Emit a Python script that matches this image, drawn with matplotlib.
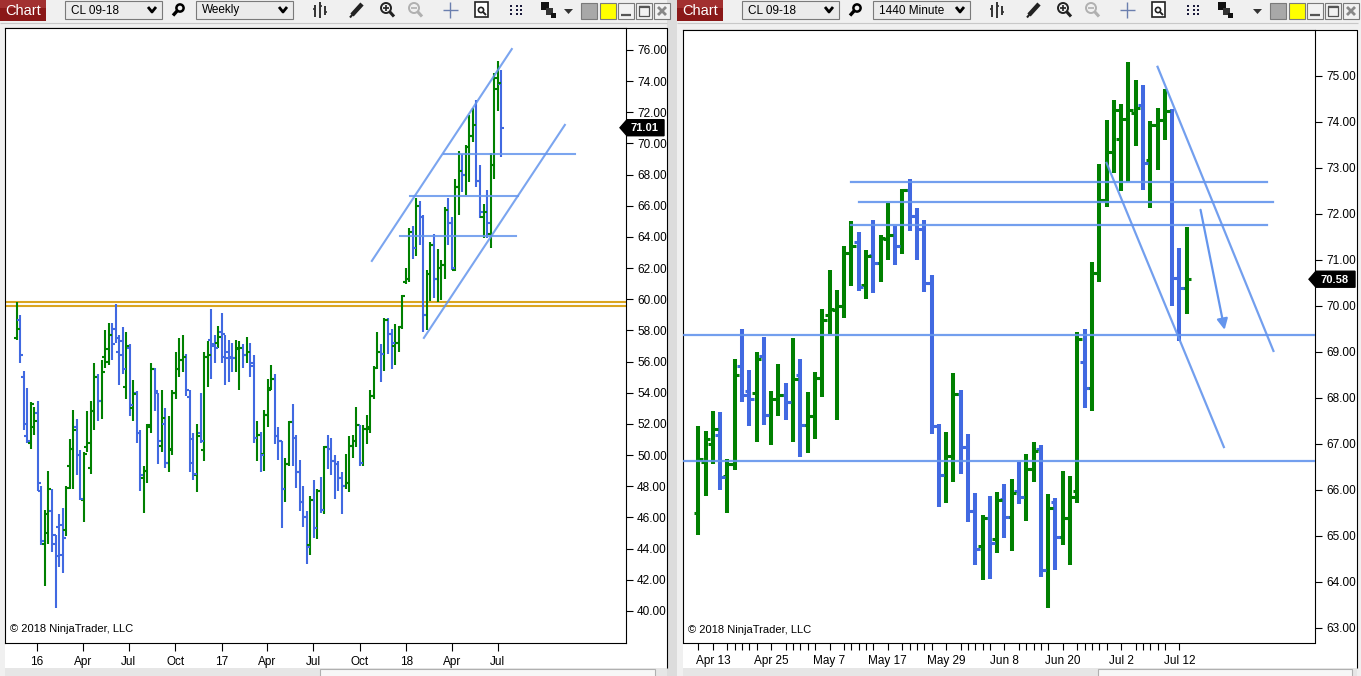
import numpy as np
import pandas as pd
import matplotlib
matplotlib.use("Agg")
import matplotlib.pyplot as plt
import matplotlib.dates as mdates
from matplotlib.patches import Rectangle, Polygon, Circle

plt.rcParams['font.family'] = ['Liberation Sans', 'DejaVu Sans']

# ---------------- weekly CL 09-18 (left chart) ----------------
W_LAST_DATE = '2018-07-08'
W_OPEN = [57.5, 58.7, 55.0, 51.2, 50.8, 51.8, 52.7, 47.7, 44.3, 45.0,
          46.4, 44.9, 45.4, 45.5, 45.2, 49.3, 50.4, 51.8, 50.0, 47.1,
          50.5, 49.2, 52.8, 55.0, 53.5, 56.3, 56.0, 57.7, 58.1, 56.6,
          57.3, 54.4, 56.9, 53.0, 54.0, 51.4, 48.5, 49.0, 51.8, 55.5,
          54.0, 50.6, 52.0, 49.5, 50.3, 54.0, 55.5, 56.1, 56.3, 53.7,
          51.0, 48.7, 51.4, 50.3, 56.3, 57.4, 57.1, 57.2, 57.9, 56.3,
          56.6, 56.3, 56.2, 56.8, 56.9, 56.4, 56.6, 55.9, 51.1, 51.3,
          50.1, 52.6, 54.3, 54.9, 51.2, 50.9, 47.8, 49.4, 52.1, 51.1,
          48.9, 47.0, 46.0, 44.2, 47.1, 45.3, 47.7, 46.5, 50.5, 50.4,
          49.6, 49.4, 48.5, 48.0, 48.2, 50.6, 50.9, 51.9, 49.5, 51.7,
          51.7, 53.8, 55.6, 56.6, 56.5, 58.7, 57.8, 57.0, 57.2, 58.2,
          61.1, 61.3, 64.3, 63.3, 66.0, 65.3, 59.0, 61.6, 63.5, 61.3,
          62.0, 62.2, 65.7, 64.9, 61.9, 67.2, 68.2, 68.0, 69.8, 70.5,
          71.2, 67.6, 65.3, 65.6, 64.2, 68.6, 73.5, 73.8]
W_HIGH = [59.85, 59.0, 55.4, 54.3, 53.4, 53.1, 53.5, 48.0, 46.5, 49.0,
          47.8, 44.9, 46.2, 46.6, 48.0, 51.0, 52.9, 52.3, 50.3, 50.2,
          52.8, 53.5, 55.9, 55.2, 56.1, 58.0, 58.5, 58.5, 59.7, 57.7,
          58.2, 57.9, 57.1, 54.8, 54.1, 51.6, 49.3, 52.0, 55.9, 55.6,
          54.0, 54.2, 53.0, 52.5, 54.2, 56.6, 57.5, 57.7, 56.5, 54.2,
          51.4, 52.0, 54.0, 56.6, 57.3, 59.4, 57.7, 58.3, 59.1, 57.7,
          57.4, 57.2, 57.4, 57.3, 57.1, 57.6, 57.2, 56.4, 52.2, 51.5,
          52.9, 54.9, 55.8, 55.2, 51.8, 50.9, 49.8, 52.2, 53.3, 51.3,
          49.7, 48.0, 46.4, 47.4, 48.4, 47.8, 48.6, 50.6, 51.3, 51.1,
          50.0, 49.6, 48.9, 50.1, 51.2, 51.3, 53.1, 51.9, 51.9, 52.6,
          54.2, 55.7, 57.9, 57.1, 58.8, 58.8, 58.1, 58.4, 58.3, 60.3,
          62.0, 64.6, 64.7, 66.5, 66.3, 65.4, 61.9, 63.7, 64.2, 63.2,
          62.5, 65.9, 66.5, 65.3, 67.7, 69.5, 69.3, 69.9, 71.8, 72.3,
          72.8, 68.6, 66.1, 67.0, 69.4, 74.5, 75.3, 74.7]
W_LOW = [57.4, 55.9, 51.6, 50.8, 50.4, 51.3, 47.7, 44.2, 41.6, 44.3,
         43.8, 40.2, 42.8, 42.4, 44.8, 47.8, 47.8, 48.7, 47.1, 45.7,
         50.2, 48.8, 51.6, 52.2, 52.3, 55.6, 55.8, 56.1, 57.2, 54.5,
         55.2, 53.6, 52.5, 52.2, 50.8, 47.7, 46.3, 48.2, 51.4, 52.8,
         49.4, 50.2, 49.2, 48.9, 50.0, 53.6, 55.0, 55.3, 53.8, 48.9,
         48.4, 47.6, 50.8, 49.6, 54.4, 54.9, 55.9, 56.9, 55.9, 54.5,
         54.7, 55.3, 55.3, 54.2, 55.6, 55.9, 55.0, 50.8, 49.6, 48.9,
         49.0, 51.8, 54.2, 50.7, 49.7, 45.3, 47.0, 49.3, 49.3, 47.9,
         46.4, 45.4, 43.0, 43.6, 44.7, 44.6, 46.3, 46.2, 49.1, 48.7,
         47.2, 47.7, 46.2, 47.8, 47.6, 49.8, 50.5, 49.3, 49.3, 50.7,
         51.4, 53.6, 55.5, 54.7, 55.4, 56.5, 55.5, 55.8, 56.6, 58.1,
         61.0, 61.1, 62.6, 62.8, 63.5, 57.9, 58.0, 59.9, 60.1, 59.8,
         59.95, 61.3, 63.5, 61.9, 61.8, 65.4, 66.9, 66.7, 67.5, 70.1,
         67.2, 65.2, 63.95, 63.95, 63.3, 67.7, 72.1, 69.15]
W_CLOSE = [58.1, 56.4, 52.0, 50.9, 53.3, 52.2, 48.2, 44.5, 46.2, 47.8,
           44.3, 43.5, 43.6, 44.7, 47.9, 50.4, 51.6, 50.0, 47.2, 50.1,
           50.8, 52.8, 55.0, 53.5, 55.3, 56.8, 57.7, 57.1, 57.5, 56.4,
           55.5, 57.0, 53.2, 53.9, 51.4, 48.7, 49.0, 51.9, 55.5, 54.1,
           50.9, 52.4, 49.5, 50.4, 54.0, 55.5, 56.1, 56.3, 54.2, 49.5,
           48.8, 51.2, 50.9, 56.3, 56.4, 57.0, 56.9, 57.6, 57.8, 56.2,
           56.2, 56.2, 56.9, 56.9, 56.4, 56.6, 55.7, 51.1, 51.3, 50.0,
           52.6, 54.2, 54.9, 51.2, 50.9, 47.8, 49.4, 52.1, 51.1, 48.9,
           47.0, 46.0, 44.1, 47.1, 45.3, 47.7, 46.5, 50.5, 50.4, 49.6,
           49.4, 48.5, 48.0, 48.2, 50.6, 50.9, 51.9, 49.5, 51.7, 51.8,
           53.8, 55.6, 56.6, 56.5, 58.7, 57.8, 57.2, 57.2, 58.2, 60.2,
           61.3, 64.3, 63.3, 66.0, 65.3, 59.0, 61.6, 63.5, 61.3, 62.0,
           62.2, 65.7, 64.9, 62.0, 67.2, 68.2, 68.0, 69.8, 70.5, 71.2,
           67.6, 65.6, 65.6, 64.9, 68.6, 74.2, 73.9, 71.01]

W_TICK_DATES = ['2016-01-01', '2016-04-01', '2016-07-01', '2016-10-01',
                '2017-01-01', '2017-04-01', '2017-07-01', '2017-10-01',
                '2018-01-01', '2018-04-01', '2018-07-01']
W_TICK_LABELS = ['16', 'Apr', 'Jul', 'Oct', '17', 'Apr', 'Jul', 'Oct', '18', 'Apr', 'Jul']
W_PRICE_TICKS = list(range(40, 77, 2))

# drawing objects on weekly chart
W_SUPPORT = [59.80, 59.59]
W_CHANNEL = [(('2017-10-25', 62.46), ('2018-07-29', 76.06)),
             (('2018-02-05', 57.52), ('2018-11-11', 71.19))]
W_HLINES = [(64.07, '2017-12-20', '2018-08-06'),
            (66.63, '2018-01-09', '2018-08-10'),
            (69.32, '2018-03-16', '2018-12-01')]

# ---------------- daily (1440 minute) CL 09-18 (right chart) ----------------
D_FIRST, D_LAST = '2018-04-11', '2018-07-13'
D_OPEN = [65.5, 66.6, 67.0, 67.2, 66.3, 66.57, 68.7, 68.16, 68.1, 68.9,
          67.62, 67.97, 68.07, 67.9, 68.5, 67.41, 67.6, 68.43, 69.8, 69.9,
          69.99, 71.15, 71.38, 70.46, 71.1, 70.94, 71.45, 71.54, 71.3, 72.51,
          71.96, 71.67, 70.49, 67.39, 66.33, 66.74, 68.09, 66.94, 65.55, 64.78,
          65.38, 64.93, 65.8, 65.42, 65.98, 65.85, 66.45, 66.89, 64.26, 65.73,
          64.98, 65.38, 65.98, 68.78, 68.22, 70.71, 72.3, 73.34, 73.63, 74.07,
          74.2, 74.36, 73.17, 73.94, 74.05, 74.23, 70.61, 70.38]
D_HIGH = [67.39, 67.28, 67.72, 67.69, 66.67, 68.84, 69.5, 68.61, 68.99, 69.33,
          68.14, 68.74, 68.33, 69.31, 68.84, 68.12, 68.57, 69.93, 70.78, 70.35,
          71.3, 71.85, 71.6, 71.22, 71.87, 71.54, 72.23, 71.74, 72.54, 72.76,
          72.12, 71.87, 70.67, 67.43, 67.25, 68.55, 68.17, 67.22, 65.94, 65.46,
          65.86, 65.96, 66.13, 66.23, 66.6, 66.78, 67.05, 66.97, 65.91, 65.82,
          66.42, 66.29, 69.43, 69.5, 70.95, 73.09, 74.05, 74.48, 74.38, 75.3,
          74.91, 74.81, 74.03, 74.3, 74.72, 74.28, 71.26, 71.71]
D_LOW = [65.02, 65.87, 66.57, 66.0, 65.49, 66.43, 67.9, 67.38, 67.03, 67.41,
         66.98, 67.6, 67.52, 67.05, 66.72, 66.81, 67.1, 68.01, 69.38, 67.51,
         69.73, 70.44, 70.33, 70.15, 70.29, 70.53, 71.0, 70.88, 71.12, 71.62,
         70.99, 70.31, 67.22, 65.62, 65.72, 66.16, 66.35, 65.31, 64.37, 64.03,
         64.07, 64.62, 64.96, 64.66, 65.69, 65.33, 66.16, 64.1, 63.43, 64.26,
         64.8, 64.37, 65.72, 67.79, 67.71, 70.53, 72.16, 72.89, 72.49, 72.7,
         73.47, 72.51, 72.12, 72.95, 73.6, 69.99, 69.23, 69.83]
D_CLOSE = [66.67, 67.1, 67.32, 66.28, 66.57, 68.5, 68.07, 67.97, 68.85, 67.62,
           67.97, 68.07, 67.9, 68.4, 67.41, 67.6, 68.43, 69.7, 69.93, 69.99,
           71.15, 71.3, 70.41, 71.09, 70.94, 71.47, 71.54, 71.3, 72.51, 71.96,
           71.67, 70.49, 67.39, 66.33, 66.74, 68.09, 66.94, 65.55, 64.71, 65.38,
           64.85, 65.77, 65.42, 65.93, 65.85, 66.45, 66.85, 64.26, 65.6, 64.98,
           65.38, 65.85, 69.29, 68.22, 70.71, 72.3, 73.34, 74.25, 74.07, 74.25,
           74.3, 73.11, 73.94, 74.05, 74.23, 70.61, 70.38, 70.58]
D_LABEL_FIRST, D_LABEL_STEP = 2, 8
D_PRICE_TICKS = list(range(63, 76))

# drawing objects on daily chart (bar index, price)
D_SEGMENTS = [(72.70, 21.0, 78.0), (72.25, 22.0, 78.8), (71.77, 21.0, 78.0)]
D_FULL_LINES = [69.37, 66.63]
D_DIAGS = [((63.0, 75.20), (78.9, 69.02)), ((56.0, 73.11), (72.1, 66.93))]
D_ARROW = ((68.9, 72.09), (72.2, 69.48))

# ---------------- styling ----------------
GREEN = '#008000'
BLUE = '#4169E1'
DRAW = '#6495ED'
GOLD = '#DAA520'
W, H = 1361, 676

fig = plt.figure(figsize=(W / 100, H / 100), dpi=100)
fig.patch.set_facecolor('#f0f0f0')


def px_rect(x0, y0, x1, y1):
    return [x0 / W, 1 - y1 / H, (x1 - x0) / W, (y1 - y0) / H]


bg = fig.add_axes([0, 0, 1, 1], zorder=0)
bg.set_xlim(0, W); bg.set_ylim(H, 0); bg.axis('off')
fg = fig.add_axes([0, 0, 1, 1], zorder=10)
fg.set_xlim(0, W); fg.set_ylim(H, 0); fg.axis('off'); fg.patch.set_alpha(0)


def rect(ax, x0, y0, x1, y1, **kw):
    ax.add_patch(Rectangle((x0, y0), x1 - x0, y1 - y0, **kw))


def line(ax, xs, ys, **kw):
    ax.plot(xs, ys, solid_capstyle='butt', **kw)


# window backgrounds
rect(bg, 0, 0, W, H, fc='#f0f0f0', ec='none')
rect(bg, 5, 28, 667, 668, fc='white', ec='none')
rect(bg, 683, 30, 1357, 668, fc='white', ec='none')
rect(bg, 667, 0, 677, H, fc='#dcdcdc', ec='none')
# window frames
line(bg, [5, 667, 667], [28, 28, 668], color='black', lw=0.8)
line(bg, [683, 1357, 1357], [30, 30, 668], color='black', lw=0.8)
line(bg, [0, 667], [22.5, 22.5], color='#c8c8c8', lw=0.8)
line(bg, [677, 1358], [22.5, 22.5], color='#c8c8c8', lw=0.8)
# scrollbars
rect(bg, 5, 668, 667, H, fc='#e6e6e6', ec='none')
rect(bg, 320, 669, 655, H + 2, fc='#f7f7f7', ec='#b0b0b0', lw=0.8)
rect(bg, 683, 668, 1357, H, fc='#e6e6e6', ec='none')
rect(bg, 1098, 669, 1352, H + 2, fc='#f7f7f7', ec='#b0b0b0', lw=0.8)


def combo(ax, x0, x1, text):
    rect(ax, x0, 1, x1, 19, fc='#ebebeb', ec='#7a7a7a', lw=0.8)
    ax.text(x0 + 6, 10.5, text, fontsize=8.5, va='center', ha='left', color='black')
    line(ax, [x1 - 14, x1 - 10, x1 - 6], [7, 12, 7], color='black', lw=2)


def toolbar(ox, rx, interval):
    ax = bg
    # Chart tab
    rect(ax, ox, 0, ox + 46, 21, fc='#8a1818', ec='none')
    rect(ax, ox, 0, ox + 46, 8, fc='#a23030', ec='none')
    ax.text(ox + 23, 11, 'Chart', color='white', fontsize=10.5, ha='center', va='center')
    combo(ax, ox + 65, ox + 162, 'CL 09-18')
    ax.add_patch(Circle((ox + 180, 8), 3.6, fill=False, ec='black', lw=1.8))
    line(ax, [ox + 177.5, ox + 173], [10.5, 15.5], color='black', lw=2.4)
    combo(ax, ox + 196, ox + 293, interval)
    # bars icon
    for dx, y0, y1 in [(315, 5, 17), (320, 2, 18), (325, 6, 15)]:
        line(ax, [ox + dx, ox + dx], [y0, y1], color='#333333', lw=1.4)
    line(ax, [ox + 313, ox + 315], [9, 9], color='#333', lw=1.2)
    line(ax, [ox + 320, ox + 322], [6, 6], color='#333', lw=1.2)
    line(ax, [ox + 325, ox + 327], [12, 12], color='#333', lw=1.2)
    # pencil
    line(ax, [ox + 352, ox + 362], [15, 4], color='#222', lw=3.2)
    line(ax, [ox + 350, ox + 352.5], [17.5, 14.5], color='#222', lw=1.5)
    # zoom in / out
    ax.add_patch(Circle((ox + 386, 8), 5, fill=False, ec='#222', lw=1.4))
    line(ax, [ox + 383, ox + 389], [8, 8], color='#222', lw=1.2)
    line(ax, [ox + 386, ox + 386], [5, 11], color='#222', lw=1.2)
    line(ax, [ox + 389.5, ox + 394], [11.5, 16.5], color='#222', lw=2.2)
    ax.add_patch(Circle((ox + 414, 8), 5, fill=False, ec='#b0b0b0', lw=1.4))
    line(ax, [ox + 411, ox + 417], [8, 8], color='#b0b0b0', lw=1.2)
    line(ax, [ox + 417.5, ox + 422], [11.5, 16.5], color='#b0b0b0', lw=2.2)
    # crosshair
    line(ax, [ox + 443, ox + 458], [10, 10], color='#6b7fae', lw=1)
    line(ax, [ox + 450.5, ox + 450.5], [2, 18], color='#6b7fae', lw=1)
    # properties icon
    rect(ax, ox + 475, 2, ox + 488, 17, fc='white', ec='#222', lw=1.2)
    ax.add_patch(Circle((ox + 481, 10), 2.6, fill=False, ec='#222', lw=1.2))
    line(ax, [ox + 483, ox + 486], [12, 15], color='#222', lw=1.4)
    # grid icon
    for gx in (510, 516, 520):
        for gy in (6, 10, 14):
            rect(ax, ox + gx, gy - 1.2, ox + gx + 2.4, gy + 1.2, fc='#1a1a3a', ec='none')
    # squares icon
    rect(ax, ox + 541, 2, ox + 549, 10, fc='#111', ec='none')
    rect(ax, ox + 546, 8, ox + 553, 15, fc='#333', ec='none')
    rect(ax, ox + 551, 13, ox + 556, 18, fc='#111', ec='none')
    # right end items
    ax.add_patch(Polygon([(rx + 564, 9), (rx + 573, 9), (rx + 568.5, 14)], closed=True,
                         fc='#333', ec='none'))
    rect(ax, rx + 581, 3, rx + 597, 19, fc='#a8a8a8', ec='#7a7a7a', lw=0.8)
    rect(ax, rx + 600, 3, rx + 616, 19, fc='#ffff00', ec='#7a7a7a', lw=0.8)
    rect(ax, rx + 618, 3, rx + 634, 19, fc='#f2f2f2', ec='#7a7a7a', lw=0.8)
    line(ax, [rx + 621, rx + 631], [14.5, 14.5], color='#555', lw=1.6)
    rect(ax, rx + 636, 3, rx + 652, 19, fc='#f2f2f2', ec='#7a7a7a', lw=0.8)
    rect(ax, rx + 639, 6, rx + 649, 16, fc='none', ec='#555', lw=0.9)
    line(ax, [rx + 639, rx + 649], [7, 7], color='#555', lw=1.6)
    rect(ax, rx + 654, 3, rx + 670, 19, fc='#f2f2f2', ec='#7a7a7a', lw=0.8)
    line(ax, [rx + 658, rx + 666], [7, 15], color='#888', lw=2)
    line(ax, [rx + 658, rx + 666], [15, 7], color='#888', lw=2)


toolbar(0, 0, 'Weekly')
toolbar(677, 689, '1440 Minute')


def ohlc(ax, x, o, h, l, c, half, lw_v, lw_t):
    o, h, l, c = map(np.asarray, (o, h, l, c))
    x = np.asarray(x, dtype=float)
    col = np.where(c >= o, GREEN, BLUE)
    ax.vlines(x, l, h, colors=col, lw=lw_v, zorder=3)
    ax.hlines(o, x - half, x, colors=col, lw=lw_t, zorder=3)
    ax.hlines(c, x, x + half, colors=col, lw=lw_t, zorder=3)


def style_axes(ax, price_ticks):
    ax.set_facecolor('white')
    for s in ax.spines.values():
        s.set_color('black'); s.set_linewidth(0.8)
    ax.yaxis.tick_right()
    ax.set_yticks(price_ticks)
    ax.set_yticklabels([f'{v:.2f}' for v in price_ticks])
    ax.tick_params(axis='y', length=5, width=0.8, pad=3, labelsize=8.5, colors='black')
    ax.tick_params(axis='x', length=6, width=0.8, pad=4, labelsize=8.5, colors='black')


# ---------------- left: weekly ----------------
axL = fig.add_axes(px_rect(5, 28, 626, 642.5), zorder=2)
w_dates = pd.date_range(end=W_LAST_DATE, periods=len(W_CLOSE), freq='7D')
wx = mdates.date2num(w_dates)
for p in W_SUPPORT:
    axL.axhline(p, color=GOLD, lw=1.5, zorder=2)
for (d0, p0), (d1, p1) in W_CHANNEL:
    axL.plot(mdates.date2num(pd.to_datetime([d0, d1])), [p0, p1], color=DRAW, lw=1.5,
             alpha=0.85, zorder=4)
for p, d0, d1 in W_HLINES:
    axL.plot(mdates.date2num(pd.to_datetime([d0, d1])), [p, p], color=DRAW, lw=1.5,
             alpha=0.85, zorder=4)
ohlc(axL, wx, W_OPEN, W_HIGH, W_LOW, W_CLOSE, half=6.0, lw_v=1.5, lw_t=1.5)
axL.set_xlim(mdates.date2num(pd.Timestamp('2015-10-30')), mdates.date2num(pd.Timestamp('2019-03-12')))
axL.set_ylim(37.97, 77.41)
style_axes(axL, W_PRICE_TICKS)
axL.set_xticks(mdates.date2num(pd.to_datetime(W_TICK_DATES)))
axL.set_xticklabels(W_TICK_LABELS)

# ---------------- right: daily ----------------
axR = fig.add_axes(px_rect(683, 30, 1315, 642.5), zorder=2)
d_dates = pd.bdate_range(D_FIRST, D_LAST)
dx = np.arange(len(D_CLOSE))
for p, i0, i1 in D_SEGMENTS:
    axR.plot([i0, i1], [p, p], color=DRAW, lw=1.6, alpha=0.9, zorder=4)
for p in D_FULL_LINES:
    axR.axhline(p, color=DRAW, lw=1.6, alpha=0.9, zorder=4)
for (i0, p0), (i1, p1) in D_DIAGS:
    axR.plot([i0, i1], [p0, p1], color=DRAW, lw=1.6, alpha=0.9, zorder=4)
(a0, b0), (a1, b1) = D_ARROW
axR.annotate('', xy=(a1, b1), xytext=(a0, b0),
             arrowprops=dict(arrowstyle='-|>', color=DRAW, lw=1.6, mutation_scale=16,
                             shrinkA=0, shrinkB=0), zorder=4)
ohlc(axR, dx, D_OPEN, D_HIGH, D_LOW, D_CLOSE, half=0.65, lw_v=2.9, lw_t=2.2)
axR.set_xlim(-2.1, 84.6)
axR.set_ylim(62.68, 76.0)
style_axes(axR, D_PRICE_TICKS)
major = [i for i in dx if (i - D_LABEL_FIRST) % D_LABEL_STEP == 0 and i >= D_LABEL_FIRST]
minor = [i for i in dx if (i - D_LABEL_FIRST) % D_LABEL_STEP not in (0, 1, D_LABEL_STEP - 1)]
axR.set_xticks(major)
axR.set_xticklabels([f'{d_dates[i]:%b} {d_dates[i].day}' for i in major])
axR.set_xticks(minor, minor=True)
axR.tick_params(axis='x', which='minor', length=5, width=0.8)
axR.tick_params(axis='x', which='major', length=5, width=0.8)

# copyright texts
fg.text(10, 629, '\u00a9 2018 NinjaTrader, LLC', fontsize=8, ha='left', va='center', color='black')
fg.text(688, 630, '\u00a9 2018 NinjaTrader, LLC', fontsize=8, ha='left', va='center', color='black')


# last price markers
def price_marker(ax, price, tip_x, right_x):
    y_disp = ax.transData.transform((ax.get_xlim()[0], price))[1]
    y = H - y_disp
    pts = [(tip_x, y), (tip_x + 7, y - 8), (right_x, y - 8), (right_x, y + 8), (tip_x + 7, y + 8)]
    fg.add_patch(Polygon(pts, closed=True, fc='black', ec='black'))
    fg.text((tip_x + 5 + right_x) / 2, y + 0.5, f'{price:.2f}', color='white', fontsize=8,
            fontweight='bold', ha='center', va='center')


price_marker(axL, W_CLOSE[-1], 620, 664)
price_marker(axR, D_CLOSE[-1], 1309, 1355)

fig.savefig('out.png', dpi=100, facecolor=fig.get_facecolor())
